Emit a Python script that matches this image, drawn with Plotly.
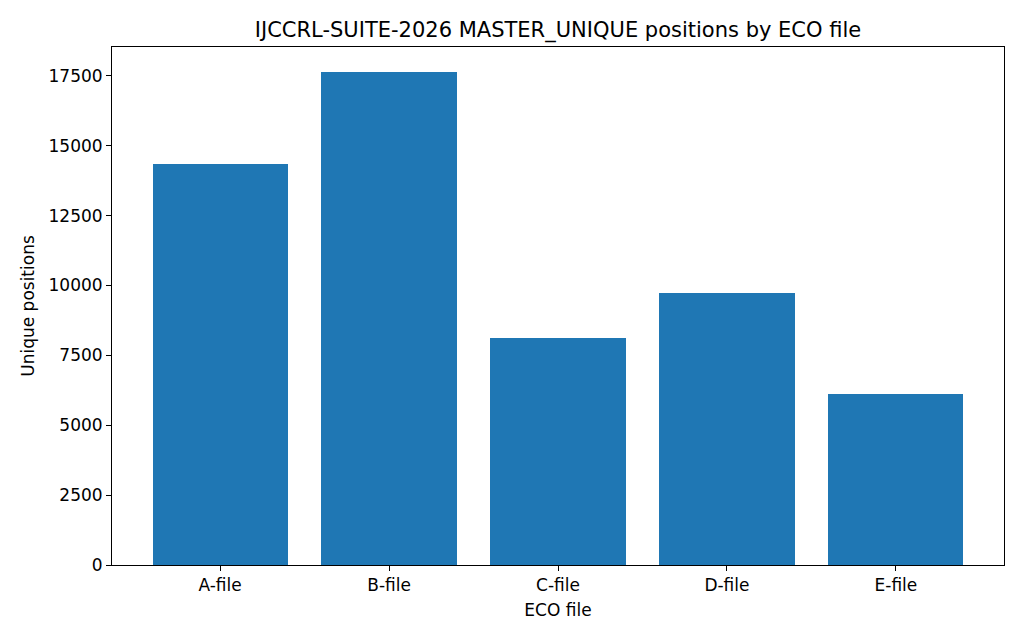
import plotly.graph_objects as go

categories = ["A-file", "B-file", "C-file", "D-file", "E-file"]
values = [14330, 17650, 8120, 9720, 6125]
y_ticks = [0, 2500, 5000, 7500, 10000, 12500, 15000, 17500]

fig = go.Figure(go.Bar(
    x=list(range(len(categories))), y=values, width=0.8,
    marker=dict(color="#1f77b4", line=dict(width=0)),
))

font = "DejaVu Sans"
fig.update_layout(
    width=1024, height=640,
    margin=dict(l=112, r=20, t=47, b=75),
    paper_bgcolor="white", plot_bgcolor="white",
    font=dict(family=font, size=17, color="black"),
    title=dict(text="IJCCRL-SUITE-2026 MASTER_UNIQUE positions by ECO file",
               x=(112 + 1004) / 2 / 1024, xanchor="center", y=1 - 30 / 640, yanchor="middle",
               font=dict(size=21, family=font, color="black")),
    showlegend=False,
    bargap=0,
)
fig.update_xaxes(
    range=[-0.64, 4.64], tickvals=list(range(len(categories))), ticktext=categories,
    showline=True, linecolor="black", linewidth=1, mirror=True,
    ticks="outside", ticklen=5, tickcolor="black", showgrid=False, zeroline=False,
    title=dict(text="ECO file", font=dict(size=17), standoff=9),
)
fig.update_yaxes(
    range=[0, 18530], tickvals=y_ticks, ticktext=[str(v) for v in y_ticks],
    showline=True, linecolor="black", linewidth=1, mirror=True,
    ticks="outside", ticklen=5, tickcolor="black", showgrid=False, zeroline=False,
    title=dict(text="Unique positions", font=dict(size=17), standoff=9),
)
fig.write_html("out.html")
